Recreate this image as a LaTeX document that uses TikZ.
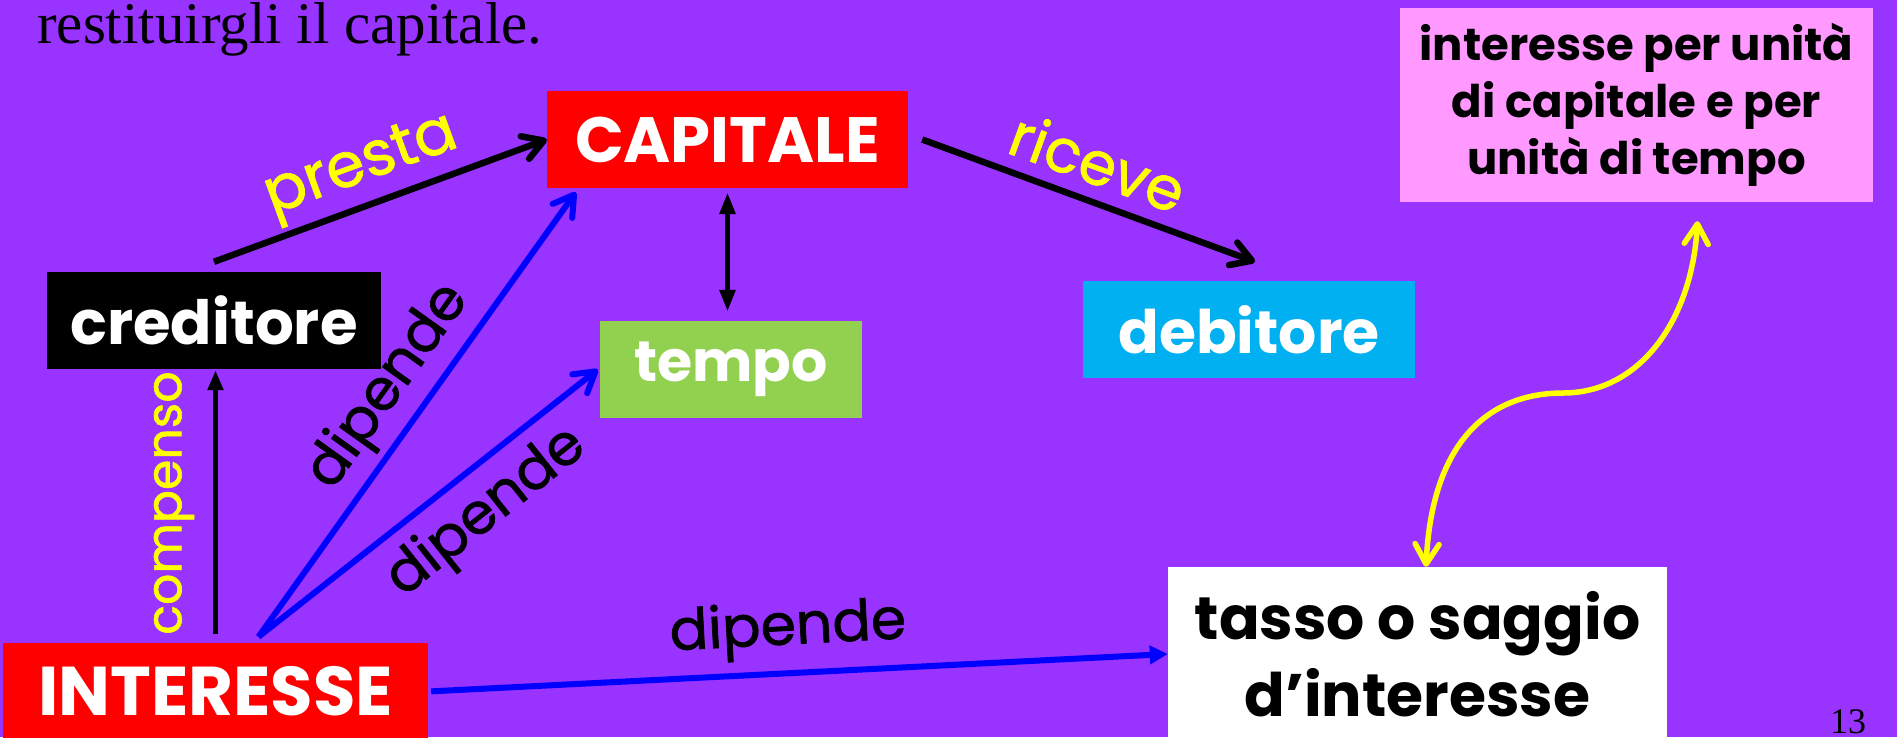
\documentclass[tikz,border=0pt]{standalone}
\usepackage{fontspec}
\setmainfont{Liberation Serif}
\newfontfamily\comic{Poppins}
\newfontfamily\comiclbl{Poppins}[FakeBold=1.2]
\usetikzlibrary{arrows.meta}
\definecolor{bgpurple}{RGB}{153,51,255}
\definecolor{capred}{RGB}{255,0,0}
\definecolor{tgreen}{RGB}{146,208,80}
\definecolor{dblue}{RGB}{0,176,240}
\definecolor{pinkbox}{RGB}{255,153,255}
\definecolor{arrblue}{RGB}{0,0,255}
\definecolor{lblyellow}{RGB}{255,255,0}
\newcommand{\fsz}[1]{\fontsize{#1}{#1}\selectfont}
\begin{document}
\begin{tikzpicture}[x=1pt,y=-1pt,
  box/.style={inner sep=0pt, text=white},
  lbl/.style={inner sep=0pt},
  barbarrow/.style={-{Straight Barb[length=20pt,width=24pt,round]}},
  triarrow/.style={-{Triangle[length=20pt,width=15pt]}},
  blk/.style={draw=black, line width=6.5pt},
  blu/.style={draw=arrblue, line width=6pt},
  yel/.style={draw=lblyellow, line width=5.5pt}]
\useasboundingbox (0,0) rectangle (1897,737);
\fill[bgpurple] (0,0) rectangle (1897,737);

% title and page number
\node[anchor=base west, inner sep=0pt, font=\fsz{59}] (title) at (37,43) {restituirgli il capitale.};
\node[anchor=base, inner sep=0pt, font=\fsz{36}] (pnum) at (1848,733) {13};

% boxes
\node[box, fill=capred, minimum width=361pt, minimum height=97pt, font=\comic\bfseries\fsz{64}] (cap) at (727.5,139.5) {CAPITALE};
\node[box, fill=tgreen, minimum width=262pt, minimum height=97pt, font=\comic\bfseries\fsz{57}] (tempo) at (731,369.5) {tempo};
\node[box, fill=dblue, minimum width=332pt, minimum height=97pt, font=\comic\bfseries\fsz{60}] (deb) at (1249,329.5) {debitore};
\node[box, fill=black, minimum width=334pt, minimum height=97pt, font=\comic\bfseries\fsz{61}] (cred) at (214,320.5) {creditore};
\node[box, fill=capred, minimum width=425pt, minimum height=97pt, font=\comic\bfseries\fsz{69}] (int) at (215.5,691.5) {INTERESSE};
\node[box, fill=white, text=black, align=center, minimum width=499pt, minimum height=174pt, font=\comic\bfseries\fontsize{60}{77}\selectfont] (tasso) at (1417.5,654) {tasso o saggio\\d’interesse};
\node[box, fill=pinkbox, text=black, align=center, minimum width=473pt, minimum height=194pt, font=\comic\bfseries\fontsize{45}{57}\selectfont] (pink) at (1636.5,105) {interesse per unità\\di capitale e per\\unità di tempo};

% helper coordinates
\coordinate (src) at ([xshift=43pt,yshift=6pt]int.north);

% black connectors
\draw[blk, barbarrow] ([yshift=10pt]cred.north) -- (cap.west);
\draw[blk, barbarrow] ([xshift=14pt]cap.east) -- ([xshift=6pt,yshift=19pt]deb.north);
\draw[blk, {Triangle[length=22pt,width=15pt]}-{Triangle[length=22pt,width=15pt]}, line width=5.5pt, shorten <=4pt, shorten >=9pt] (cap.south) -- (cap.south |- tempo.north);
\draw[blk, triarrow, line width=5.5pt, shorten <=9pt, shorten >=1pt] (int.north) -- (int.north |- cred.south);

% blue connectors
\draw[blu, barbarrow] (src) -- ([xshift=29pt,yshift=-4pt]cap.south west);
\draw[blu, barbarrow] (src) -- ([xshift=-2pt]tempo.west);
\draw[blu, -{Triangle[length=18pt,width=18pt]}, shorten <=3pt] (int.east) -- (tasso.west);

% yellow curved connector
\draw[yel, {Straight Barb[length=20pt,width=24pt,round]}-{Straight Barb[length=20pt,width=24pt,round]}]
  ([xshift=8.5pt]tasso.north) .. controls (1432,440) and (1490,393) .. (1563,393)
  .. controls (1640,393) and (1692,320) .. ([xshift=61pt,yshift=-19pt]pink.south);

% labels
\node[lbl, text=lblyellow, rotate=20, font=\comiclbl\fsz{62}] (lpresta) at (362,168) {presta};
\node[lbl, text=lblyellow, rotate=-20, font=\comiclbl\fsz{60}] (lriceve) at (1098,162) {riceve};
\node[lbl, text=lblyellow, rotate=90, font=\comiclbl\fsz{49}] (lcomp) at (174,503) {compenso};
\node[lbl, text=black, rotate=54.5, font=\comiclbl\fsz{57}] (ldip1) at (389,387) {dipende};
\node[lbl, text=black, rotate=38.5, font=\comiclbl\fsz{57}] (ldip2) at (487,513) {dipende};
\node[lbl, text=black, rotate=3, font=\comiclbl\fsz{57}] (ldip3) at (788,630) {dipende};
\end{tikzpicture}
\end{document}
